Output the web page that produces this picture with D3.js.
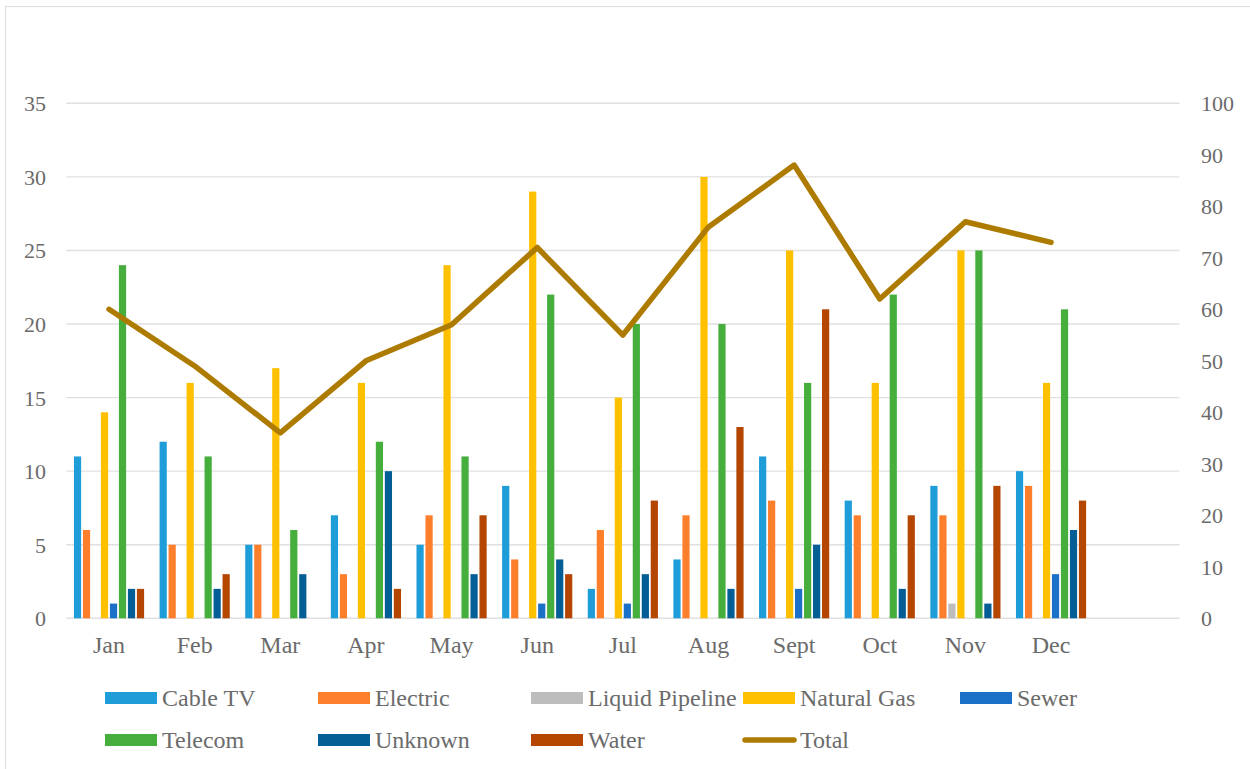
<!DOCTYPE html>
<html>
<head>
<meta charset="utf-8">
<script src="https://cdn.jsdelivr.net/npm/d3@7"></script>
<style>
  html, body { margin: 0; padding: 0; background: #fff; }
  svg { display: block; }
  text { font-family: "Liberation Serif", "Times New Roman", serif; fill: #6b6b6b; }
</style>
</head>
<body>
<svg id="chart" width="1250" height="769"></svg>
<script>
// Monthly counts by facility type
const months = ["Jan", "Feb", "Mar", "Apr", "May", "Jun", "Jul", "Aug", "Sept", "Oct", "Nov", "Dec"];
const seriesNames = ["Cable TV", "Electric", "Liquid Pipeline", "Natural Gas", "Sewer", "Telecom", "Unknown", "Water"];

const cableTV        = [11, 12, 5, 7, 5, 9, 2, 4, 11, 8, 9, 10];
const electric       = [6, 5, 5, 3, 7, 4, 6, 7, 8, 7, 7, 9];
const liquidPipeline = [0, 0, 0, 0, 0, 0, 0, 0, 0, 0, 1, 0];
const naturalGas     = [14, 16, 17, 16, 24, 29, 15, 30, 25, 16, 25, 16];
const sewer          = [1, 0, 0, 0, 0, 1, 1, 0, 2, 0, 0, 3];
const telecom        = [24, 11, 6, 12, 11, 22, 20, 20, 16, 22, 25, 21];
const unknown        = [2, 2, 3, 10, 3, 4, 3, 2, 5, 2, 1, 6];
const water          = [2, 3, 0, 2, 7, 3, 8, 13, 21, 7, 9, 8];
const total          = [60, 49, 36, 50, 57, 72, 55, 76, 88, 62, 77, 73];

const leftTicks  = [0, 5, 10, 15, 20, 25, 30, 35];
const rightTicks = [0, 10, 20, 30, 40, 50, 60, 70, 80, 90, 100];

const seriesValues = [cableTV, electric, liquidPipeline, naturalGas, sewer, telecom, unknown, water];
const seriesColors = ["#1f9dd9", "#fd7f2b", "#bdbdbd", "#ffc000", "#1b71c8", "#46ae3c", "#045e96", "#b44600"];
const totalColor = "#ad7b00";

const svg = d3.select("#chart");

// outer chart frame
svg.append("rect")
  .attr("x", 5.5).attr("y", 6.5)
  .attr("width", 1260).attr("height", 800)
  .attr("fill", "none").attr("stroke", "#dedede").attr("stroke-width", 1.2);

const plot = { left: 66.2, right: 1179.5, top: 103.3, bottom: 618.3 };

// one empty trailing slot after December
const slots = months.concat([""]);
const x0 = d3.scaleBand().domain(slots).range([plot.left, plot.right]).paddingInner(0).paddingOuter(0);
const x1 = d3.scaleBand().domain(seriesNames).range([0, x0.bandwidth()]).paddingInner(0.2).paddingOuter(0.86);

const yLeft = d3.scaleLinear().domain([0, 35]).range([plot.bottom, plot.top]);
const yRight = d3.scaleLinear().domain([0, 100]).range([plot.bottom, plot.top]);

// gridlines
svg.append("g")
  .selectAll("line")
  .data(leftTicks)
  .join("line")
  .attr("x1", plot.left).attr("x2", plot.right)
  .attr("y1", d => yLeft(d)).attr("y2", d => yLeft(d))
  .attr("stroke", "#e0e0e0").attr("stroke-width", 1.4);

// left axis labels
const leftAxis = d3.axisLeft(yLeft).tickValues(leftTicks).tickSize(0).tickPadding(0);
const gl = svg.append("g").attr("transform", "translate(46,0)").call(leftAxis);
gl.select(".domain").remove();
gl.selectAll("text")
  .attr("font-size", 22).attr("dy", "0.34em")
  .style("font-family", "'Liberation Serif', serif").attr("fill", "#6b6b6b");

// right axis labels
const rightAxis = d3.axisRight(yRight).tickValues(rightTicks).tickSize(0).tickPadding(0);
const gr = svg.append("g").attr("transform", "translate(1201,0)").call(rightAxis);
gr.select(".domain").remove();
gr.selectAll("text")
  .attr("font-size", 22).attr("dy", "0.34em")
  .style("font-family", "'Liberation Serif', serif").attr("fill", "#6b6b6b");

// category labels
const bottomAxis = d3.axisBottom(x0).tickValues(months).tickSize(0).tickPadding(0);
const gb = svg.append("g").attr("transform", `translate(0,${plot.bottom})`).call(bottomAxis);
gb.select(".domain").remove();
gb.selectAll("text")
  .attr("font-size", 24).attr("dy", 0).attr("y", 35)
  .style("font-family", "'Liberation Serif', serif").attr("fill", "#6b6b6b");

// clustered bars
const barRows = months.map((m, i) => ({
  month: m,
  values: seriesNames.map((s, k) => ({ name: s, value: seriesValues[k][i], color: seriesColors[k] }))
}));

svg.append("g")
  .selectAll("g")
  .data(barRows)
  .join("g")
  .attr("transform", d => `translate(${x0(d.month)},0)`)
  .selectAll("rect")
  .data(d => d.values.filter(v => v.value > 0))
  .join("rect")
  .attr("x", d => x1(d.name))
  .attr("width", x1.bandwidth())
  .attr("y", d => yLeft(d.value))
  .attr("height", d => yLeft(0) - yLeft(d.value))
  .attr("fill", d => d.color);

// total line on the secondary axis
const line = d3.line()
  .x((d, i) => x0(months[i]) + x0.bandwidth() / 2)
  .y(d => yRight(d));

svg.append("path")
  .datum(total)
  .attr("d", line)
  .attr("fill", "none")
  .attr("stroke", totalColor)
  .attr("stroke-width", 5.5)
  .attr("stroke-linejoin", "round")
  .attr("stroke-linecap", "round");

// legend
const legendItems = seriesNames.map((s, k) => ({ name: s, color: seriesColors[k], type: "bar" }))
  .concat([{ name: "Total", color: totalColor, type: "line" }]);
const colX = [105, 318, 531, 743, 960];
const rowY = [698, 740];

const lg = svg.append("g")
  .selectAll("g")
  .data(legendItems)
  .join("g")
  .attr("transform", (d, i) => {
    const r = i < 5 ? 0 : 1;
    const c = i < 5 ? i : i - 5;
    return `translate(${colX[c]},${rowY[r]})`;
  });

lg.filter(d => d.type === "bar")
  .append("rect")
  .attr("x", 0).attr("y", -6)
  .attr("width", 52).attr("height", 12)
  .attr("fill", d => d.color);

lg.filter(d => d.type === "line")
  .append("line")
  .attr("x1", 2).attr("x2", 51)
  .attr("y1", 0).attr("y2", 0)
  .attr("stroke", d => d.color)
  .attr("stroke-width", 5.5)
  .attr("stroke-linecap", "round");

lg.append("text")
  .attr("x", 57).attr("y", 8)
  .attr("font-size", 24)
  .text(d => d.name);
</script>
</body>
</html>
